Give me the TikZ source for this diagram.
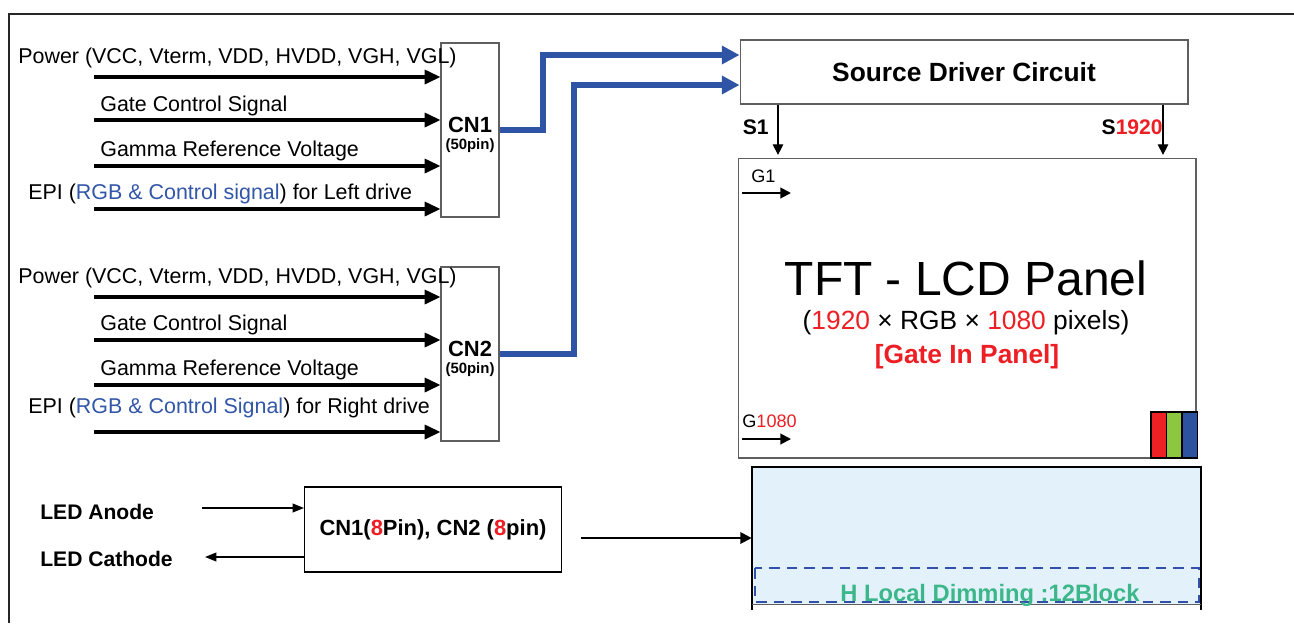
\documentclass[tikz,border=0pt]{standalone}
\usepackage{fontspec}
\setmainfont{Liberation Sans}
\usetikzlibrary{arrows.meta,positioning,calc}
\definecolor{lcdred}{RGB}{237,30,36}
\definecolor{epiblue}{RGB}{50,86,168}
\definecolor{busblue}{RGB}{47,84,165}
\definecolor{boxgray}{RGB}{95,95,95}
\definecolor{blfill}{RGB}{227,241,251}
\definecolor{dimblue}{RGB}{50,80,170}
\definecolor{dimgreen}{RGB}{60,183,137}
\definecolor{rgbred}{RGB}{237,32,36}
\definecolor{rgbgreen}{RGB}{141,198,63}
\definecolor{rgbblue}{RGB}{44,82,160}

\begin{document}
\begin{tikzpicture}[x=0.02cm, y=-0.02cm, >=Triangle,
    lbl/.style={anchor=west, inner sep=0pt, font=\fontsize{12.2}{14}\selectfont},
    conbox/.style={draw=boxgray, line width=0.6pt, inner sep=0pt, minimum width=1.16cm, minimum height=3.48cm},
    cntext/.style={align=center, inner sep=0pt, font=\bfseries\fontsize{12.5}{10}\selectfont},
    sig/.style={line width=1.8pt, -{Triangle[length=9pt, width=8pt]}},
    bus/.style={line width=3.2pt, busblue, -{Triangle[length=10pt, width=10pt]}},
    thinarr/.style={line width=0.75pt, -{Triangle[length=6pt, width=6pt]}},
    garr/.style={line width=1.1pt, -{Triangle[length=6pt, width=6pt]}},
    ledarr/.style={line width=0.9pt, -{Triangle[length=6.5pt, width=5pt]}}]

    \useasboundingbox (0,0) rectangle (1294,623);

    % Outer frame
    \draw[line width=1.1pt, black!85] (1294,14) -- (9,14) -- (9,623);

    % Connector CN1 with its inputs
    \node[conbox] (cnA) at (470,130) {};
    \node[cntext] (cnAtxt) at (470,135) {CN1\\{\fontsize{8.5}{10}\selectfont (50pin)}};
    \foreach \y [count=\i] in {77,120,166,209} {
        \coordinate (inA\i) at (94,\y);
        \draw[sig] (inA\i) -- (inA\i -| cnA.west);
    }
    \node[lbl] (pwrA) at (18,58) {Power (VCC, Vterm, VDD, HVDD, VGH, VGL)};
    \node[lbl] (gateA) at (100,106) {Gate Control Signal};
    \node[lbl] (gamA) at (100,151) {Gamma Reference Voltage};
    \node[lbl] (epiA) at (28,194) {EPI (\textcolor{epiblue}{RGB \& Control signal}) for Left drive};

    % Connector CN2 with its inputs
    \node[conbox] (cnB) at (470,354) {};
    \node[cntext] (cnBtxt) at (470,359) {CN2\\{\fontsize{8.5}{10}\selectfont (50pin)}};
    \foreach \y [count=\i] in {297,340,385,432} {
        \coordinate (inB\i) at (94,\y);
        \draw[sig] (inB\i) -- (inB\i -| cnB.west);
    }
    \node[lbl] (pwrB) at (18,278) {Power (VCC, Vterm, VDD, HVDD, VGH, VGL)};
    \node[lbl] (gateB) at (100,325) {Gate Control Signal};
    \node[lbl] (gamB) at (100,370) {Gamma Reference Voltage};
    \node[lbl] (epiB) at (28,408) {EPI (\textcolor{epiblue}{RGB \& Control Signal}) for Right drive};

    % Source driver
    \node[draw=boxgray, line width=0.6pt, minimum width=8.96cm, minimum height=1.28cm,
          font=\bfseries\fontsize{15}{18}\selectfont] (src) at (964,72) {Source Driver Circuit};

    % Buses to the source driver
    \coordinate (jA) at (543,55);
    \coordinate (jB) at (574,85);
    \draw[bus] (cnA.east) -| (jA) -- (jA -| src.west);
    \draw[bus] (cnB.east) -| (jB) -- (jB -| src.west);

    % Panel
    \node[draw=boxgray, line width=0.6pt, minimum width=9.16cm, minimum height=6cm] (pnl) at (967,308) {};
    \draw[thinarr, shorten >=1.5pt] (src.south -| 778,0) -- (pnl.north -| 778,0);
    \draw[thinarr, shorten >=1.5pt] (src.south -| 1163,0) -- (pnl.north -| 1163,0);
    \node[anchor=east, inner sep=0pt, font=\bfseries\fontsize{12}{14}\selectfont] (sA) at (769,127) {S1};
    \node[anchor=east, inner sep=0pt, font=\bfseries\fontsize{12}{14}\selectfont] (sB) at (1163,127) {S\textcolor{lcdred}{1920}};

    \node[font=\fontsize{27.3}{32}\selectfont] (ttl) at (966,278) {TFT - LCD Panel};
    \node[font=\fontsize{15}{18}\selectfont] (res) at (966,323) {(\textcolor{lcdred}{1920} × RGB × \textcolor{lcdred}{1080} pixels)};
    \node[font=\bfseries\fontsize{15}{18}\selectfont, text=lcdred] (gip) at (967,357) {[Gate In Panel]};

    % Gate lines
    \node[anchor=west, inner sep=0pt, font=\fontsize{10.3}{12}\selectfont] (gA) at (751,176) {G1};
    \coordinate (gAs) at (742,193);
    \coordinate (gAe) at (791,193);
    \draw[garr] (gAs) -- (gAe);
    \node[anchor=west, inner sep=0pt, font=\fontsize{10.3}{12}\selectfont] (gB) at (742,421) {G\textcolor{lcdred}{1080}};
    \coordinate (gBs) at (742,439);
    \coordinate (gBe) at (791,439);
    \draw[garr] (gBs) -- (gBe);

    % RGB sub-pixels
    \foreach \x/\c in {1151/rgbred,1166.5/rgbgreen,1182/rgbblue}
        \draw[line width=0.8pt, fill=\c] (\x,412) rectangle ++(15.5,46);

    % Backlight
    \node[fill=blfill, inner sep=0pt, minimum width=8.98cm, minimum height=2.74cm] (blt) at (976.5,535.5) {};
    \draw[line width=1.2pt] ($(blt.south west)+(0,6)$) -- (blt.north west) -- (blt.north east) -- ($(blt.south east)+(0,6)$);
    \draw[boxgray, line width=0.8pt] (blt.south west) -- (blt.south east);
    \draw[dimblue, line width=1.1pt, dash pattern=on 6pt off 4pt] (755,568) rectangle (1199,602);
    \node[font=\bfseries\fontsize{13.5}{16}\selectfont, text=dimgreen] (dim) at (990,595) {H Local Dimming :12Block};

    % LED connector
    \node[draw=black, line width=0.6pt, minimum width=5.14cm, minimum height=1.7cm,
          font=\bfseries\fontsize{12.5}{15}\selectfont] (led) at (433,529.5) {CN1(\textcolor{lcdred}{8}Pin), CN2 (\textcolor{lcdred}{8}pin)};
    \node[lbl, font=\bfseries\fontsize{12}{14}\selectfont] (anode) at (40,512) {LED Anode};
    \node[lbl, font=\bfseries\fontsize{12}{14}\selectfont] (cathode) at (40,559) {LED Cathode};
    \coordinate (anodeIn) at (202,508);
    \coordinate (cathOut) at (205,557);
    \draw[ledarr] (anodeIn) -- (anodeIn -| led.west);
    \draw[ledarr] (cathOut -| led.west) -- (cathOut);
    \coordinate (ledOut) at (581,538);
    \draw[ledarr, line width=1.2pt, -{Triangle[length=6.5pt, width=6.5pt]}] (ledOut) -- (ledOut -| blt.west);

\end{tikzpicture}
\end{document}
